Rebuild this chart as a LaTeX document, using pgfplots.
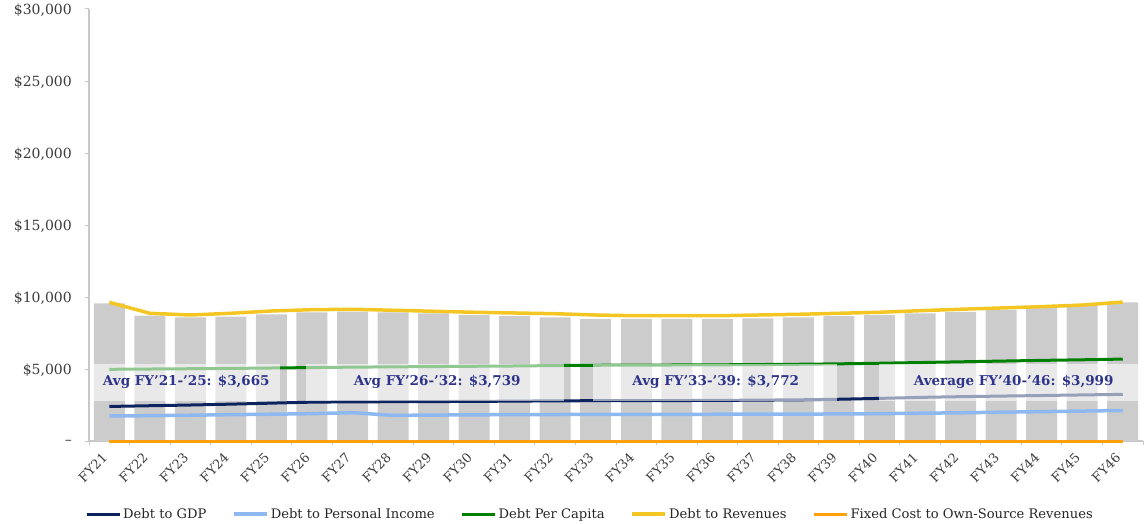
\documentclass[border=0pt]{standalone}
\usepackage{fontspec}
\setmainfont{DejaVu Serif}
\usepackage{pgfplots}
\usepackage{pgfplotstable}
\pgfplotsset{compat=1.18}
\definecolor{navyc}{RGB}{12,36,94}
\definecolor{lblue}{RGB}{141,185,240}
\definecolor{greenc}{RGB}{0,128,0}
\definecolor{yellowc}{RGB}{244,198,36}
\definecolor{orangec}{RGB}{255,160,10}
\definecolor{barg}{RGB}{204,204,204}
\definecolor{axisg}{RGB}{200,200,200}
\definecolor{labg}{RGB}{60,60,60}
\definecolor{avgc}{RGB}{46,52,140}
\pgfplotstableread{
idx bars gdp pinc pcap rev fixed
0  9560 2400 1740 4980 9630 0
1  8700 2450 1760 5000 8870 0
2  8590 2500 1790 5020 8750 0
3  8630 2560 1830 5040 8870 0
4  8800 2630 1860 5070 9030 0
5  8935 2700 1900 5100 9120 0
6  8980 2720 1970 5130 9150 0
7  8935 2730 1780 5150 9080 0
8  8870 2740 1800 5170 9010 0
9  8750 2750 1820 5190 8940 0
10 8680 2770 1830 5210 8890 0
11 8590 2790 1840 5240 8840 0
12 8470 2800 1850 5260 8750 0
13 8470 2800 1850 5270 8700 0
14 8470 2810 1850 5280 8700 0
15 8470 2820 1860 5290 8700 0
16 8520 2840 1860 5310 8750 0
17 8590 2860 1870 5330 8800 0
18 8680 2900 1880 5360 8870 0
19 8750 2960 1900 5400 8940 0
20 8870 3030 1930 5450 9050 0
21 8960 3080 1960 5500 9150 0
22 9100 3120 2000 5550 9240 0
23 9240 3160 2040 5600 9330 0
24 9400 3200 2080 5640 9440 0
25 9630 3240 2120 5690 9650 0
}\datatable
\begin{document}
\begin{tikzpicture}
\begin{axis}[
  scale only axis, width=1054bp, height=432bp,
  xmin=-0.5, xmax=25.5, ymin=0, ymax=30000,
  clip=false,
  axis lines=left,
  axis line style={draw=axisg, line width=1.2bp, -},
  tick align=outside,
  major tick length=4bp, minor tick length=4bp,
  tick style={draw=axisg, line width=1bp},
  xtick={0,...,25},
  xticklabels={FY21,FY22,FY23,FY24,FY25,FY26,FY27,FY28,FY29,FY30,FY31,FY32,FY33,FY34,FY35,FY36,FY37,FY38,FY39,FY40,FY41,FY42,FY43,FY44,FY45,FY46},
  major x tick style={draw=none},
  minor xtick={-0.5,0.5,...,25.5},
  xticklabel style={font=\fontsize{13bp}{15bp}\selectfont, text=labg, xshift=-4bp, yshift=-10bp, rotate=45, anchor=east, inner sep=0.5bp},
  ytick={0,5000,10000,15000,20000,25000,30000},
  yticklabels={{–},{\$5,000},{\$10,000},{\$15,000},{\$20,000},{\$25,000},{\$30,000}},
  yticklabel style={font=\fontsize{14bp}{16bp}\selectfont, text=labg, anchor=east, inner ysep=0pt, inner xsep=0pt, xshift=-13bp, yshift=-1.5bp},
  legend columns=5,
  legend style={at={(axis description cs:0.4753,-0.169)}, anchor=center, draw=none,
    font=\fontsize{13.1bp}{15bp}\selectfont, text=black!85,
    /tikz/every even column/.append style={column sep=24bp}},
  legend image code/.code={\draw[#1] (0bp,0bp) -- (33bp,0bp);},
]
\addplot[ybar, bar width=31bp, fill=barg, draw=none, forget plot] table[x=idx,y=bars]{\datatable};
\addplot[navyc, line width=3bp, mark=none] table[x=idx,y=gdp]{\datatable};
\addlegendentry{Debt to GDP}
\addplot[lblue, line width=3.5bp, mark=none] table[x=idx,y=pinc]{\datatable};
\addlegendentry{Debt to Personal Income}
\addplot[greenc, line width=3bp, mark=none] table[x=idx,y=pcap]{\datatable};
\addlegendentry{Debt Per Capita}
\addplot[yellowc, line width=3.5bp, mark=none] table[x=idx,y=rev]{\datatable};
\addlegendentry{Debt to Revenues}
\addplot[orangec, line width=3bp, mark=none] table[x=idx,y=fixed]{\datatable};
\addlegendentry{Fixed Cost to Own-Source Revenues}
\addplot[draw=none, fill=white, fill opacity=0.57, forget plot] coordinates {(-0.40,2780) (4.21,2780) (4.21,5360) (-0.40,5360)};
\addplot[draw=none, fill=white, fill opacity=0.57, forget plot] coordinates {(4.85,2780) (11.22,2780) (11.22,5360) (4.85,5360)};
\addplot[draw=none, fill=white, fill opacity=0.57, forget plot] coordinates {(11.93,2780) (17.95,2780) (17.95,5360) (11.93,5360)};
\addplot[draw=none, fill=white, fill opacity=0.57, forget plot] coordinates {(18.99,2780) (25.40,2780) (25.40,5360) (18.99,5360)};
\node[font=\bfseries\fontsize{13.5bp}{15bp}\selectfont, text=avgc] at (axis cs:1.90,4130) {Avg FY’21-’25: \$3,665};
\node[font=\bfseries\fontsize{13.5bp}{15bp}\selectfont, text=avgc] at (axis cs:8.09,4130) {Avg FY’26-’32: \$3,739};
\node[font=\bfseries\fontsize{13.5bp}{15bp}\selectfont, text=avgc] at (axis cs:14.96,4130) {Avg FY’33-’39: \$3,772};
\node[font=\bfseries\fontsize{13.5bp}{15bp}\selectfont, text=avgc] at (axis cs:22.31,4130) {Average FY’40-’46: \$3,999};
\coordinate (bl) at (rel axis cs:0,0);
\coordinate (tr) at (rel axis cs:1,1);
\end{axis}
\pgfresetboundingbox
\path[use as bounding box] ([shift={(-89bp,-82bp)}]bl) rectangle ([shift={(4bp,9bp)}]tr);
\end{tikzpicture}
\end{document}
